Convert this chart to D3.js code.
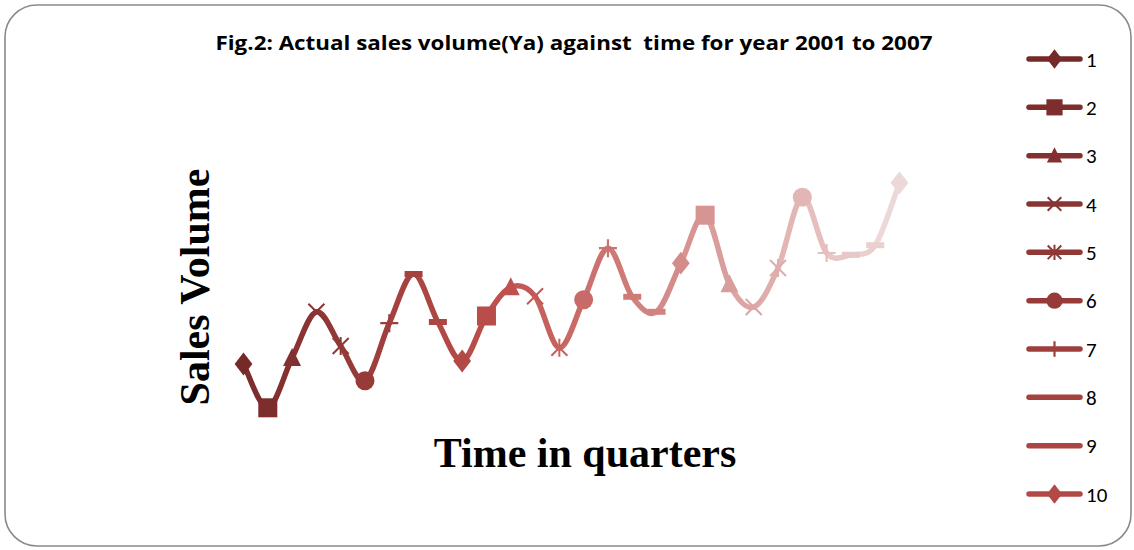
<!DOCTYPE html>
<html>
<head>
<meta charset="utf-8">
<script src="https://cdn.jsdelivr.net/npm/d3@7"></script>
<style>
  html, body { margin: 0; padding: 0; background: #fff; }
  svg { display: block; }
</style>
</head>
<body>
<svg id="chart" width="1134" height="550"></svg>
<script>
// ---- data ----
const quarters = d3.range(1, 29); // 2001 Q1 .. 2007 Q4
const salesVolume = [14.0, 6.7, 15.0, 22.7, 17.0, 11.2, 20.8, 29.0, 21.0, 14.5,
                     22.0, 26.8, 25.3, 16.7, 24.7, 33.3, 25.2, 22.7, 30.8, 38.8,
                     27.3, 23.5, 30.0, 41.8, 32.5, 32.2, 33.8, 44.2];
const legendLabels = ["1","2","3","4","5","6","7","8","9","10"];
const markerCycle = ["diamond","square","triangle","x","star","circle","plus","dash","dash"];
const titleText = "Fig.2: Actual sales volume(Ya) against  time for year 2001 to 2007";
const yTitle = "Sales Volume";
const xTitle = "Time in quarters";

// ---- setup ----
const svg = d3.select("#chart");

svg.append("rect")
  .attr("x", 5).attr("y", 5).attr("width", 1126).attr("height", 541)
  .attr("rx", 32).attr("ry", 32)
  .attr("fill", "#fff").attr("stroke", "#8a8a8a").attr("stroke-width", 1.6);

const x = d3.scaleLinear().domain([1, 28]).range([243.5, 899.5]);
const y = d3.scaleLinear().domain([0, 50]).range([448, 148]);

const colorScale = d3.scaleLinear()
  .domain([0, 11, 27])
  .range(["#752a29", "#c0504d", "#ecd8d8"])
  .interpolate(d3.interpolateRgb);

const pts = quarters.map((q, i) => ({ q, v: salesVolume[i], i, px: x(q), py: y(salesVolume[i]) }));

// ---- smooth segments (Catmull-Rom, each segment coloured by its end point) ----
const segG = svg.append("g").attr("fill", "none").attr("stroke-width", 5.5).attr("stroke-linecap", "round");
for (let i = 0; i < pts.length - 1; i++) {
  const p0 = pts[Math.max(0, i - 1)], p1 = pts[i], p2 = pts[i + 1], p3 = pts[Math.min(pts.length - 1, i + 2)];
  const k = 1 / 6;
  const c1x = p1.px + (p2.px - p0.px) * k, c1y = p1.py + (p2.py - p0.py) * k;
  const c2x = p2.px - (p3.px - p1.px) * k, c2y = p2.py - (p3.py - p1.py) * k;
  const path = d3.path();
  path.moveTo(p1.px, p1.py);
  path.bezierCurveTo(c1x, c1y, c2x, c2y, p2.px, p2.py);
  segG.append("path").attr("d", path.toString()).attr("stroke", colorScale(i + 1));
}

// ---- markers ----
function drawMarker(g, type, cx, cy, color, s) {
  s = s || 1;
  const m = g.append("g").attr("transform", `translate(${cx},${cy})`);
  switch (type) {
    case "diamond":
      m.append("path").attr("d", d3.symbol(d3.symbolDiamond, 150 * s * s)()).attr("transform", "scale(1.35,1)")
        .attr("fill", color); break;
    case "square":
      m.append("rect").attr("x", -9.5 * s).attr("y", -9.5 * s).attr("width", 19 * s).attr("height", 19 * s).attr("fill", color); break;
    case "triangle":
      m.append("path").attr("d", `M0,${-10 * s}L${9 * s},${8 * s}L${-9 * s},${8 * s}Z`).attr("fill", color); break;
    case "circle":
      m.append("circle").attr("r", 9.5 * s).attr("fill", color); break;
    case "x":
      m.append("path").attr("d", `M${-8*s},${-8*s}L${8*s},${8*s}M${-8*s},${8*s}L${8*s},${-8*s}`)
        .attr("stroke", color).attr("stroke-width", 2).attr("fill", "none"); break;
    case "star":
      m.append("path").attr("d", `M${-8*s},${-8*s}L${8*s},${8*s}M${-8*s},${8*s}L${8*s},${-8*s}M0,${-9*s}L0,${9*s}`)
        .attr("stroke", color).attr("stroke-width", 2).attr("fill", "none"); break;
    case "plus":
      m.append("path").attr("d", `M${-9*s},0L${9*s},0M0,${-9*s}L0,${9*s}`)
        .attr("stroke", color).attr("stroke-width", 2.2).attr("fill", "none"); break;
    case "dash":
      m.append("rect").attr("x", -9 * s).attr("y", -3).attr("width", 18 * s).attr("height", 6).attr("fill", color); break;
  }
}
const markG = svg.append("g");
pts.forEach(p => drawMarker(markG, markerCycle[p.i % markerCycle.length], p.px, p.py, colorScale(p.i)));

// ---- titles ----
svg.append("text")
  .attr("x", 574).attr("y", 50)
  .attr("text-anchor", "middle")
  .style("white-space", "pre")
  .attr("font-family", "'Liberation Sans Narrow', 'Open Sans', sans-serif")
  .attr("font-weight", "bold").attr("font-size", 20)
  .attr("textLength", 717).attr("lengthAdjust", "spacingAndGlyphs")
  .attr("fill", "#000")
  .text(titleText);

svg.append("text")
  .attr("transform", "translate(209,287) rotate(-90)")
  .attr("text-anchor", "middle")
  .attr("font-family", "'Liberation Serif', 'Times New Roman', serif")
  .attr("font-weight", "bold").attr("font-size", 42)
  .attr("fill", "#000")
  .text(yTitle);

svg.append("text")
  .attr("x", 585).attr("y", 467)
  .attr("text-anchor", "middle")
  .attr("font-family", "'Liberation Serif', 'Times New Roman', serif")
  .attr("font-weight", "bold").attr("font-size", 42)
  .attr("fill", "#000")
  .text(xTitle);

// ---- legend ----
const legY = d3.scaleLinear().domain([0, 9]).range([59, 494]);
const legG = svg.append("g");
legendLabels.forEach((lab, i) => {
  const cy = legY(i), col = colorScale(i);
  legG.append("line").attr("x1", 1029).attr("x2", 1080).attr("y1", cy).attr("y2", cy)
    .attr("stroke", col).attr("stroke-width", 5.5).attr("stroke-linecap", "round");
  const t = markerCycle[i % markerCycle.length];
  if (t !== "dash") drawMarker(legG, t, 1054.5, cy, col, 0.85);
  legG.append("text").attr("x", 1086).attr("y", cy + 7.5)
    .attr("font-family", "Carlito, 'Liberation Sans', sans-serif").attr("font-size", 21)
    .attr("fill", "#000").text(lab);
});
</script>
</body>
</html>
